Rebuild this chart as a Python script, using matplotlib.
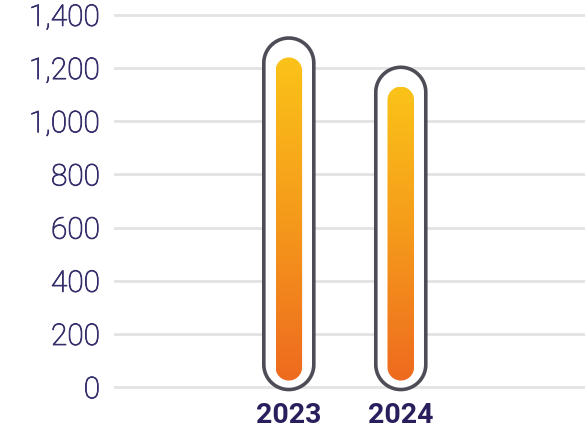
import numpy as np
import matplotlib.pyplot as plt
import matplotlib.patheffects as pe
from matplotlib.path import Path
from matplotlib.patches import PathPatch
from matplotlib.colors import LinearSegmentedColormap

years = ['2023', '2024']
values = [1240, 1130]
yticks = [0, 200, 400, 600, 800, 1000, 1200, 1400]
base = 25

fig = plt.figure(figsize=(5.85, 4.3), dpi=100)
ax = fig.add_axes([114 / 585, 0, 471 / 585, 1])
xlim = (-1.561, 2.645)
ylim = (-161, 1456)
ax.set_xlim(*xlim)
ax.set_ylim(*ylim)

for s in ax.spines.values():
    s.set_visible(False)
ax.set_xticks([])
ax.set_yticks(yticks)
ax.set_yticklabels([f'{v:,}' for v in yticks])
ax.tick_params(axis='y', length=0, pad=10, labelsize=21.5, labelcolor='#35306c')
for lbl in ax.get_yticklabels():
    lbl.set_fontfamily('Roboto')
    lbl.set_fontweight('light')
    lbl.set_path_effects([pe.withStroke(linewidth=0.6, foreground='#35306c')])
ax.yaxis.grid(True, color='#e3e3e3', linewidth=2)
ax.set_axisbelow(True)

# pixel size of one data unit
p0 = ax.transData.transform((0, 0))
sx = ax.transData.transform((1, 0))[0] - p0[0]
sy = ax.transData.transform((0, 1))[1] - p0[1]


def capsule(xc, y0, y1, r_px):
    hw = r_px / sx
    ry = r_px / sy
    t = np.linspace(0, np.pi, 60)
    top = np.column_stack([xc + hw * np.cos(t), y1 - ry + ry * np.sin(t)])
    bot = np.column_stack([xc - hw * np.cos(t), y0 + ry - ry * np.sin(t)])
    verts = np.vstack([top, bot, top[:1]])
    return Path(verts, closed=True)


cmap = LinearSegmentedColormap.from_list('bar', ['#ee6a1f', '#f59a1b', '#fbc318'])
grad = np.linspace(0, 1, 256).reshape(-1, 1)

for i, (yr, v) in enumerate(zip(years, values)):
    outer = PathPatch(capsule(i, base - 9 / sy, v + 19.4 / sy, 25),
                      facecolor='white', edgecolor='#4d4d57', linewidth=2.6, zorder=2)
    ax.add_patch(outer)
    inner = PathPatch(capsule(i, base, v, 13.3), facecolor='none', edgecolor='none', zorder=3)
    ax.add_patch(inner)
    hw = 13.3 / sx
    im = ax.imshow(grad, extent=[i - hw, i + hw, base, v], cmap=cmap, origin='lower',
                   aspect='auto', zorder=3, interpolation='bicubic')
    im.set_clip_path(inner)
    ax.text(i, -134.6, yr, ha='center', va='baseline', fontsize=20.5,
            fontweight='bold', family='Roboto', color='#2a1f5c')

ax.set_xlim(*xlim)
ax.set_ylim(*ylim)

fig.savefig('out.png', dpi=100)
